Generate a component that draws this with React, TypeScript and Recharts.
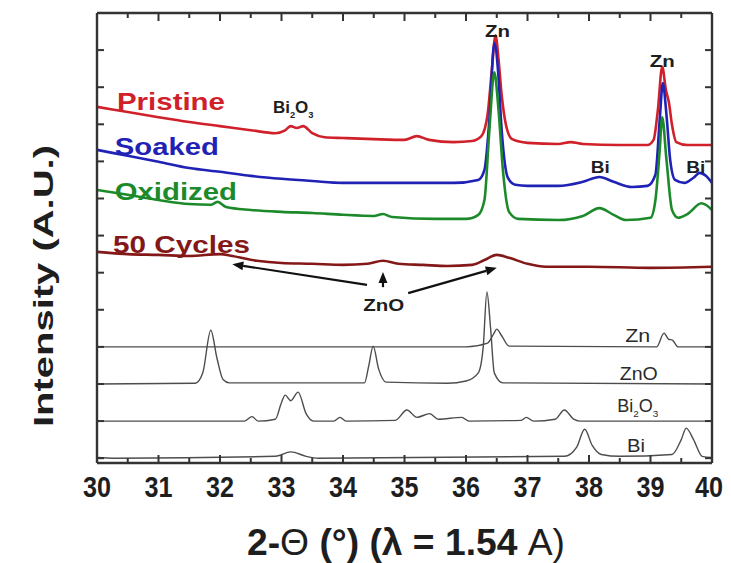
import { LineChart, Line, XAxis, YAxis, ReferenceDot, ReferenceLine } from "recharts";

const FONT = "'Liberation Sans', Arial, Helvetica, sans-serif";
const AXIS = "#333333";
const INK = "#1e1e1e";
const RED = "#d0202a";
const BLUE = "#1f22b5";
const GREEN = "#1c8a2a";
const MAROON = "#841818";
const GRAY = "#4d4d4d";

// axes
const xTicks = [30, 30.5, 31, 31.5, 32, 32.5, 33, 33.5, 34, 34.5, 35, 35.5, 36, 36.5, 37, 37.5, 38, 38.5, 39, 39.5, 40];
const yTicks = [0, 1, 2, 3, 4, 5, 6, 7, 8, 9, 10, 11, 12];

// measured patterns: [2-theta, intensity offset]
const pristine: [number, number][] = [
  [30.0, 9.47], [30.5, 9.33], [31.0, 9.19], [31.5, 9.06], [32.0, 8.95], [32.5, 8.84], [32.9, 8.76],
  [33.05, 8.83], [33.15, 8.95], [33.25, 8.9], [33.35, 8.95], [33.5, 8.76], [33.7, 8.65], [34.0, 8.63],
  [34.5, 8.6], [35.0, 8.58], [35.2, 8.68], [35.4, 8.58], [35.8, 8.52], [36.1, 8.55], [36.25, 8.68],
  [36.35, 9.25], [36.42, 10.46], [36.48, 11.4], [36.53, 10.73], [36.58, 9.79], [36.65, 8.98],
  [36.75, 8.6], [37.0, 8.5], [37.5, 8.47], [37.7, 8.52], [37.9, 8.47], [38.5, 8.44], [38.95, 8.44],
  [39.05, 8.58], [39.12, 9.39], [39.19, 10.55], [39.25, 9.93], [39.3, 9.58], [39.35, 8.98],
  [39.42, 8.52], [39.6, 8.44], [40.0, 8.44],
];
const soaked: [number, number][] = [
  [30.0, 8.31], [30.5, 8.15], [31.0, 7.99], [31.5, 7.82], [32.0, 7.72], [32.5, 7.61], [33.0, 7.53],
  [33.5, 7.47], [34.0, 7.42], [35.0, 7.42], [35.8, 7.42], [36.2, 7.5], [36.3, 7.77], [36.38, 9.12],
  [36.46, 11.19], [36.52, 10.46], [36.58, 8.84], [36.68, 7.56], [36.8, 7.37], [37.0, 7.34],
  [37.5, 7.34], [37.9, 7.45], [38.17, 7.58], [38.4, 7.45], [38.7, 7.31], [38.95, 7.34], [39.08, 7.64],
  [39.15, 9.12], [39.2, 10.11], [39.26, 9.25], [39.32, 8.04], [39.4, 7.5], [39.55, 7.42],
  [39.7, 7.56], [39.8, 7.69], [39.9, 7.61], [40.0, 7.42],
];
const oxidized: [number, number][] = [
  [30.0, 7.23], [30.5, 7.1], [31.0, 6.96], [31.5, 6.85], [31.85, 6.83], [31.96, 6.91], [32.1, 6.77],
  [32.5, 6.69], [33.0, 6.64], [33.5, 6.61], [34.0, 6.56], [34.5, 6.53], [34.65, 6.58], [34.8, 6.5],
  [35.5, 6.45], [36.0, 6.45], [36.2, 6.56], [36.3, 6.96], [36.38, 8.84], [36.46, 10.4], [36.53, 9.37],
  [36.6, 7.77], [36.7, 6.64], [36.85, 6.45], [37.5, 6.42], [37.9, 6.53], [38.17, 6.74], [38.4, 6.56],
  [38.6, 6.42], [39.0, 6.48], [39.08, 6.96], [39.15, 8.31], [39.19, 9.19], [39.26, 8.04],
  [39.35, 6.69], [39.45, 6.48], [39.6, 6.58], [39.83, 6.87], [40.0, 6.69],
];
const cycles50: [number, number][] = [
  [30.0, 5.56], [30.5, 5.5], [31.0, 5.48], [31.5, 5.45], [32.0, 5.5], [32.2, 5.45], [32.6, 5.32],
  [33.0, 5.26], [33.5, 5.24], [34.0, 5.21], [34.4, 5.24], [34.65, 5.32], [34.9, 5.24], [35.3, 5.21],
  [35.7, 5.18], [36.1, 5.21], [36.3, 5.34], [36.5, 5.48], [36.7, 5.4], [37.0, 5.24], [37.3, 5.16],
  [38.0, 5.16], [39.0, 5.13], [40.0, 5.16],
];

// reference patterns
const refZn: [number, number][] = [
  [30.0, 3.0], [36.0, 3.0], [36.35, 3.1], [36.45, 3.35], [36.5, 3.48], [36.58, 3.3], [36.7, 3.02],
  [39.1, 3.0], [39.22, 3.37], [39.3, 3.2], [39.35, 3.19], [39.45, 3.0], [40.0, 3.0],
];
const refZnO: [number, number][] = [
  [30.0, 2.0], [31.6, 2.02], [31.72, 2.3], [31.85, 3.45], [31.95, 2.7], [32.05, 2.12], [32.15, 2.03],
  [34.35, 2.03], [34.42, 2.5], [34.49, 3.02], [34.58, 2.4], [34.7, 2.05], [35.7, 2.02], [36.0, 2.08],
  [36.2, 2.3], [36.28, 3.0], [36.34, 4.48], [36.4, 3.5], [36.46, 2.3], [36.6, 2.03], [40.0, 2.0],
];
const refBi2O3: [number, number][] = [
  [30.0, 1.0], [32.4, 1.0], [32.52, 1.12], [32.62, 1.0], [32.9, 1.05], [33.0, 1.5], [33.06, 1.7],
  [33.15, 1.55], [33.27, 1.78], [33.4, 1.2], [33.52, 1.0], [33.85, 1.0], [33.95, 1.1], [34.05, 1.0],
  [34.85, 1.02], [35.04, 1.3], [35.2, 1.1], [35.41, 1.2], [35.55, 1.05], [35.93, 1.1], [36.05, 1.0],
  [36.9, 1.02], [36.98, 1.1], [37.1, 1.0], [37.45, 1.05], [37.6, 1.3], [37.75, 1.05], [37.85, 1.0],
  [40.0, 1.0],
];
const refBi: [number, number][] = [
  [30.0, 0.02], [30.3, 0.0], [32.9, 0.05], [33.15, 0.17], [33.4, 0.05], [33.6, 0.0], [37.6, 0.05],
  [37.8, 0.3], [37.93, 0.78], [38.05, 0.35], [38.2, 0.1], [38.5, 0.05], [39.35, 0.1], [39.5, 0.5],
  [39.58, 0.81], [39.7, 0.5], [39.84, 0.05], [40.0, 0.02],
];

const toPts = (a: [number, number][]) => a.map(([x, y]) => ({ x, y }));

const series = [
  { name: "Pristine", data: pristine, color: RED, width: 2.6 },
  { name: "Soaked", data: soaked, color: BLUE, width: 2.6 },
  { name: "Oxidized", data: oxidized, color: GREEN, width: 2.6 },
  { name: "50 Cycles", data: cycles50, color: MAROON, width: 2.6 },
  { name: "Zn ref", data: refZn, color: GRAY, width: 1.4 },
  { name: "ZnO ref", data: refZnO, color: GRAY, width: 1.4 },
  { name: "Bi2O3 ref", data: refBi2O3, color: GRAY, width: 1.4 },
  { name: "Bi ref", data: refBi, color: GRAY, width: 1.4 },
];

// text notes: x, baseline y (data units), text width in px
type Note = { x: number; y: number; text: string; kind: "sample" | "peak" | "ref"; color: string; len: number };
const notes: Note[] = [
  { x: 30.325, y: 9.39, text: "Pristine", kind: "sample", color: RED, len: 108 },
  { x: 30.29, y: 8.17, text: "Soaked", kind: "sample", color: BLUE, len: 104 },
  { x: 30.29, y: 6.96, text: "Oxidized", kind: "sample", color: GREEN, len: 122 },
  { x: 30.26, y: 5.53, text: "50 Cycles", kind: "sample", color: MAROON, len: 137 },
  { x: 32.86, y: 9.3, text: "Bi2O3", kind: "peak", color: INK, len: 51 },
  { x: 36.31, y: 11.36, text: "Zn", kind: "peak", color: INK, len: 25 },
  { x: 38.99, y: 10.54, text: "Zn", kind: "peak", color: INK, len: 25 },
  { x: 38.03, y: 7.69, text: "Bi", kind: "peak", color: INK, len: 19 },
  { x: 39.58, y: 7.69, text: "Bi", kind: "peak", color: INK, len: 19 },
  { x: 34.33, y: 3.97, text: "ZnO", kind: "peak", color: INK, len: 41 },
  { x: 38.59, y: 3.13, text: "Zn", kind: "ref", color: "#2a2a2a", len: 25 },
  { x: 38.5, y: 2.11, text: "ZnO", kind: "ref", color: "#2a2a2a", len: 38 },
  { x: 38.46, y: 1.25, text: "Bi2O3", kind: "ref", color: "#2a2a2a", len: 50 },
  { x: 38.62, y: 0.17, text: "Bi", kind: "ref", color: "#2a2a2a", len: 18 },
];

const arrows = [
  { from: { x: 34.39, y: 4.67 }, to: { x: 32.2, y: 5.23 } },
  { from: { x: 34.65, y: 4.61 }, to: { x: 34.65, y: 5.02 } },
  { from: { x: 35.06, y: 4.45 }, to: { x: 36.5, y: 5.13 } },
];

const noteSize = { sample: 24, peak: 17, ref: 18 };

function chemParts(text: string, size: number) {
  // digits become subscripts
  const parts = text.split(/(\d)/).filter(Boolean);
  let down = false;
  return parts.map((p, i) => {
    if (/\d/.test(p)) {
      const el = (
        <tspan key={i} fontSize={size * 0.55} dy={down ? 0 : 5}>
          {p}
        </tspan>
      );
      down = true;
      return el;
    }
    const el = (
      <tspan key={i} dy={down ? -5 : 0}>
        {p}
      </tspan>
    );
    down = false;
    return el;
  });
}

function noteLabel(n: Note) {
  return (props: any) => {
    const vb = props.viewBox || {};
    const x = (vb.x ?? 0) + (vb.width ?? 0) / 2;
    const y = (vb.y ?? 0) + (vb.height ?? 0) / 2;
    const size = noteSize[n.kind];
    const chem = n.text === "Bi2O3";
    return (
      <text
        x={x}
        y={y}
        fill={n.color}
        fontSize={size}
        fontWeight={n.kind === "ref" ? 500 : "bold"}
        fontFamily={FONT}
        textLength={chem ? undefined : n.len}
        lengthAdjust="spacingAndGlyphs"
      >
        {chem ? chemParts(n.text, size) : n.text}
      </text>
    );
  };
}

function ArrowShape(p: any) {
  const { x1, y1, x2, y2 } = p;
  if ([x1, y1, x2, y2].some((v) => typeof v !== "number")) return <g />;
  const ang = Math.atan2(y2 - y1, x2 - x1);
  const L = 11;
  const W = 4.5;
  const bx = x2 - L * Math.cos(ang);
  const by = y2 - L * Math.sin(ang);
  const px = -Math.sin(ang) * W;
  const py = Math.cos(ang) * W;
  return (
    <g>
      <line x1={x1} y1={y1} x2={bx} y2={by} stroke="#111" strokeWidth={2.2} />
      <polygon points={`${x2},${y2} ${bx + px},${by + py} ${bx - px},${by - py}`} fill="#111" />
    </g>
  );
}

function BottomTick({ x, y, payload }: any) {
  const major = Number.isInteger(payload.value);
  // keep the last label inside the picture
  const lx = payload.value === 40 ? x - 3 : x;
  return (
    <g>
      <line x1={x} y1={y} x2={x} y2={y - (major ? 8 : 5)} stroke={AXIS} strokeWidth={2} />
      {major && (
        <text
          x={lx}
          y={y + 34}
          textAnchor="middle"
          fontSize={30}
          fontWeight="bold"
          fontFamily={FONT}
          fill={INK}
          textLength={28}
          lengthAdjust="spacingAndGlyphs"
        >
          {payload.value}
        </text>
      )}
    </g>
  );
}

function TopTick({ x, y, payload }: any) {
  const major = Number.isInteger(payload.value);
  return <line x1={x} y1={y} x2={x} y2={y + (major ? 8 : 5)} stroke={AXIS} strokeWidth={2} />;
}

function LeftTick({ x, y }: any) {
  return <line x1={x} y1={y} x2={x + 7} y2={y} stroke={AXIS} strokeWidth={2} />;
}

function RightTick({ x, y }: any) {
  return <line x1={x} y1={y} x2={x - 7} y2={y} stroke={AXIS} strokeWidth={2} />;
}

function XTitle(props: any) {
  const vb = props.viewBox || {};
  const cx = (vb.x ?? 0) + (vb.width ?? 0) / 2 + 1.5;
  const y = (vb.y ?? 0) + 92;
  return (
    <text
      x={cx}
      y={y}
      textAnchor="middle"
      fontSize={36}
      fontWeight="bold"
      fontFamily={FONT}
      fill={INK}
      textLength={318}
      lengthAdjust="spacingAndGlyphs"
    >
      <tspan>2-</tspan>
      <tspan fontWeight="normal">Θ</tspan>
      <tspan> (°) (λ = 1.54 </tspan>
      <tspan fontWeight="normal">A)</tspan>
    </text>
  );
}

function YTitle(props: any) {
  const vb = props.viewBox || {};
  const x = (vb.x ?? 0) + (vb.width ?? 0) - 44;
  const cy = 286;
  return (
    <text
      x={x}
      y={cy}
      transform={`rotate(-90 ${x} ${cy})`}
      textAnchor="middle"
      fontSize={28}
      fontWeight="bold"
      fontFamily={FONT}
      fill={INK}
      textLength={282}
      lengthAdjust="spacingAndGlyphs"
    >
      Intensity (A.U.)
    </text>
  );
}

const common = {
  tickSize: 0,
  tickMargin: 0,
  tickLine: false,
  interval: 0 as const,
  allowDataOverflow: true,
  axisLine: { stroke: AXIS, strokeWidth: 2.4 },
};

export default function App() {
  return (
    <div style={{ position: "absolute", left: 0, top: 0, width: 731, height: 563, background: "#fff" }}>
      <LineChart width={731} height={563} margin={{ top: 12, right: 18, bottom: 99, left: 96 }}>
        <XAxis
          {...common}
          dataKey="x"
          type="number"
          domain={[30, 40]}
          ticks={xTicks}
          height={1}
          tick={(p: any) => <BottomTick {...p} />}
          label={XTitle}
        />
        <XAxis
          {...common}
          xAxisId="top"
          orientation="top"
          dataKey="x"
          type="number"
          domain={[30, 40]}
          ticks={xTicks}
          height={1}
          tick={(p: any) => <TopTick {...p} />}
        />
        <YAxis
          {...common}
          type="number"
          domain={[-0.13, 12]}
          ticks={yTicks}
          width={1}
          tick={(p: any) => <LeftTick {...p} />}
          label={YTitle}
        />
        <YAxis
          {...common}
          yAxisId="right"
          orientation="right"
          type="number"
          domain={[-0.13, 12]}
          ticks={yTicks}
          width={1}
          tick={(p: any) => <RightTick {...p} />}
        />
        {series.map((s) => (
          <Line
            key={s.name}
            name={s.name}
            data={toPts(s.data)}
            dataKey="y"
            type="monotone"
            stroke={s.color}
            strokeWidth={s.width}
            dot={false}
            activeDot={false}
            isAnimationActive={false}
          />
        ))}
        {arrows.map((a, i) => (
          <ReferenceLine
            key={`arrow-${i}`}
            segment={[a.from, a.to]}
            stroke="#111"
            shape={(p: any) => <ArrowShape {...p} />}
          />
        ))}
        {notes.map((n, i) => (
          <ReferenceDot
            key={`note-${i}`}
            x={n.x}
            y={n.y}
            r={0}
            fill="none"
            stroke="none"
            label={noteLabel(n)}
          />
        ))}
      </LineChart>
    </div>
  );
}
